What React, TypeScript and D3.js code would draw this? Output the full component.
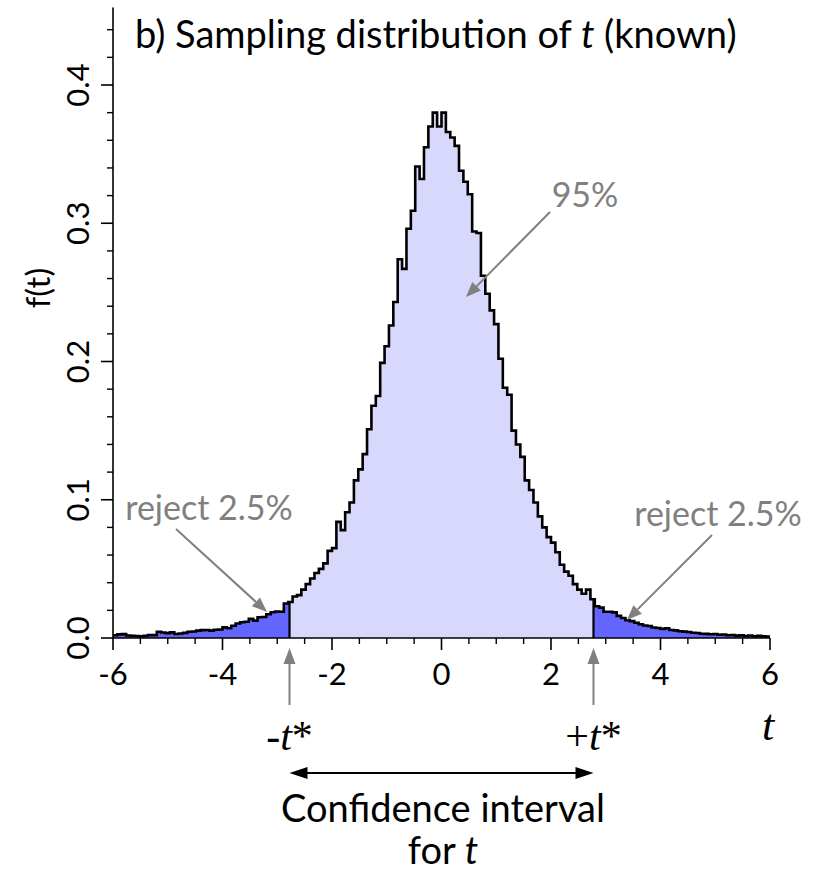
import React from "react";
import * as d3 from "d3";

// ---- data ----
const binStart = -6;
const binWidth = 0.08;
// t from -6.00 to -2.80
const leftTail = [
  0.0020, 0.0026, 0.0028, 0.0018, 0.0016, 0.0014, 0.0012, 0.0016, 0.0022, 0.0021,
  0.0045, 0.0040, 0.0035, 0.0041, 0.0029, 0.0033, 0.0037, 0.0045, 0.0047, 0.0053,
  0.0057, 0.0058, 0.0053, 0.0060, 0.0062, 0.0077, 0.0070, 0.0089, 0.0105, 0.0114,
  0.0118, 0.0138, 0.0126, 0.0150, 0.0152, 0.0172, 0.0186, 0.0192, 0.0190, 0.0250,
];
// t from -2.80 to 0.08
const leftCore = [
  0.026, 0.030, 0.031, 0.035, 0.039, 0.043, 0.047, 0.050, 0.054, 0.063,
  0.065, 0.084, 0.078, 0.091, 0.098, 0.114, 0.122, 0.133, 0.151, 0.168,
  0.175, 0.199, 0.211, 0.226, 0.243, 0.274, 0.267, 0.296, 0.309, 0.341,
  0.332, 0.355, 0.370, 0.380, 0.370, 0.380,
];
// t from 0.08 to 2.80
const rightCore = [
  0.366, 0.362, 0.356, 0.338, 0.330, 0.321, 0.294, 0.293, 0.262, 0.249,
  0.237, 0.227, 0.202, 0.181, 0.176, 0.150, 0.140, 0.131, 0.114, 0.107,
  0.098, 0.088, 0.080, 0.073, 0.069, 0.062, 0.053, 0.048, 0.045, 0.039,
  0.035, 0.032, 0.035, 0.028,
];
// t from 2.80 to 6.00
const rightTail = [
  0.0230, 0.0220, 0.0190, 0.0190, 0.0185, 0.0160, 0.0145, 0.0128, 0.0122, 0.0110,
  0.0100, 0.0090, 0.0087, 0.0076, 0.0072, 0.0066, 0.0071, 0.0058, 0.0055, 0.0049,
  0.0046, 0.0043, 0.0038, 0.0036, 0.0031, 0.0030, 0.0027, 0.0029, 0.0023, 0.0025,
  0.0020, 0.0022, 0.0017, 0.0019, 0.0014, 0.0018, 0.0013, 0.0016, 0.0012, 0.0011,
];
const tStar = 2.776;
const xMajor = [-6, -4, -2, 0, 2, 4, 6];
const yMajor = [0, 0.1, 0.2, 0.3, 0.4];
const xDomain = [-6, 6];
const yTop = 0.456;

const LIGHT = "#d8d8fd";
const DARK = "#6464ff";
const GRAY = "#808080";
const FONT = "Lato, 'Open Sans', sans-serif";
const SERIF = "'Liberation Serif', 'DejaVu Serif', serif";

export default function App() {
  const values = [...leftTail, ...leftCore, ...rightCore, ...rightTail];
  const pts: [number, number][] = values.map((v, i) => [binStart + i * binWidth, v]);
  pts.push([binStart + values.length * binWidth, values[values.length - 1]]);

  const x = d3.scaleLinear().domain(xDomain).range([113, 770]);
  const y = d3.scaleLinear().domain([0, 0.4]).range([638, 85]);

  const area = d3
    .area<[number, number]>()
    .x((d) => x(d[0]))
    .y0(y(0))
    .y1((d) => y(d[1]))
    .curve(d3.curveStepAfter);
  const line = d3
    .line<[number, number]>()
    .x((d) => x(d[0]))
    .y((d) => y(d[1]))
    .curve(d3.curveStepAfter);

  const valAt = (t: number) => {
    const i = Math.min(values.length - 1, Math.floor((t - binStart) / binWidth));
    return values[i];
  };

  const xMinor = d3.range(-6, 6.001, 0.5).filter((v) => !xMajor.includes(v));
  const yMinor = d3.range(0, yTop, 0.02).filter((v) => !yMajor.some((m) => Math.abs(m - v) < 1e-6));

  const arrow = (x1: number, y1: number, x2: number, y2: number, color: string, head = 15, hw = 6) => {
    const ang = Math.atan2(y2 - y1, x2 - x1);
    const bx = x2 - head * Math.cos(ang);
    const by = y2 - head * Math.sin(ang);
    const px = -Math.sin(ang) * hw;
    const py = Math.cos(ang) * hw;
    return (
      <g>
        <line x1={x1} y1={y1} x2={bx} y2={by} stroke={color} strokeWidth={2} />
        <path d={`M${x2},${y2} L${bx + px},${by + py} L${bx - px},${by - py} Z`} fill={color} />
      </g>
    );
  };

  const xl = x(-tStar);
  const xr = x(tStar);

  return (
    <svg width={820} height={875} style={{ position: "absolute", left: 0, top: 0, background: "#fff" }}>
      <defs>
        <clipPath id="midClip">
          <rect x={xl} y={0} width={xr - xl} height={700} />
        </clipPath>
        <clipPath id="tailClip">
          <rect x={0} y={0} width={xl} height={700} />
          <rect x={xr} y={0} width={820 - xr} height={700} />
        </clipPath>
      </defs>

      {/* fills */}
      <path d={area(pts) || ""} fill={LIGHT} clipPath="url(#midClip)" />
      <path d={area(pts) || ""} fill={DARK} clipPath="url(#tailClip)" />
      {/* t* boundary lines */}
      <line x1={xl} x2={xl} y1={y(0)} y2={y(valAt(-tStar))} stroke="#000" strokeWidth={2.2} />
      <line x1={xr} x2={xr} y1={y(0)} y2={y(valAt(tStar))} stroke="#000" strokeWidth={2.2} />
      {/* outline */}
      <path d={line(pts) || ""} fill="none" stroke="#000" strokeWidth={2.6} strokeLinejoin="miter" />

      {/* axes */}
      <line x1={x(-6)} x2={x(-6)} y1={y(yTop)} y2={y(0)} stroke="#000" strokeWidth={1.6} />
      <line x1={x(-6)} x2={x(6)} y1={y(0)} y2={y(0)} stroke="#000" strokeWidth={1.6} />
      {yMajor.map((v) => (
        <g key={"ym" + v}>
          <line x1={x(-6) - 12} x2={x(-6)} y1={y(v)} y2={y(v)} stroke="#000" strokeWidth={1.6} />
          <text
            transform={`translate(${x(-6) - 24},${y(v)}) rotate(-90)`}
            textAnchor="middle"
            fontFamily={FONT}
            fontSize={31}
          >
            {v.toFixed(1)}
          </text>
        </g>
      ))}
      {yMinor.map((v) => (
        <line key={"yn" + v} x1={x(-6) - 6} x2={x(-6)} y1={y(v)} y2={y(v)} stroke="#000" strokeWidth={1.4} />
      ))}
      {xMajor.map((v) => (
        <g key={"xm" + v}>
          <line x1={x(v)} x2={x(v)} y1={y(0)} y2={y(0) + 12} stroke="#000" strokeWidth={1.6} />
          <text x={x(v)} y={y(0) + 47} textAnchor="middle" fontFamily={FONT} fontSize={31}>
            {v < 0 ? `-${Math.abs(v)}` : `${v}`}
          </text>
        </g>
      ))}
      {xMinor.map((v) => (
        <line key={"xn" + v} x1={x(v)} x2={x(v)} y1={y(0)} y2={y(0) + 6} stroke="#000" strokeWidth={1.4} />
      ))}

      {/* axis titles */}
      <text transform="translate(50,288) rotate(-90)" textAnchor="middle" fontFamily={FONT} fontSize={33}>
        f(t)
      </text>
      <text x={768} y={740} textAnchor="middle" fontFamily={SERIF} fontStyle="italic" fontSize={44}>
        t
      </text>

      {/* title */}
      <text x={135} y={48} fontFamily={FONT} fontSize={38}>
        b) Sampling distribution of <tspan fontStyle="italic">t</tspan> (known)
      </text>

      {/* annotations */}
      <text x={585} y={207} textAnchor="middle" fontFamily={FONT} fontSize={34} fill={GRAY}>
        95%
      </text>
      {arrow(550, 212, 466, 297, GRAY)}
      <text x={209} y={520} textAnchor="middle" fontFamily={FONT} fontSize={34} fill={GRAY}>
        reject 2.5%
      </text>
      {arrow(176, 529, 267, 612, GRAY)}
      <text x={718} y={526} textAnchor="middle" fontFamily={FONT} fontSize={34} fill={GRAY}>
        reject 2.5%
      </text>
      {arrow(712, 535, 627, 620, GRAY)}

      {/* t* markers */}
      {arrow(xl, 705, xl, 648, GRAY, 16, 6)}
      {arrow(xr, 705, xr, 648, GRAY, 16, 6)}
      <text x={xl} y={750} textAnchor="middle" fontFamily={SERIF} fontSize={42}>
        -<tspan fontStyle="italic">t</tspan>*
      </text>
      <text x={xr} y={750} textAnchor="middle" fontFamily={SERIF} fontSize={42}>
        +<tspan fontStyle="italic">t</tspan>*
      </text>

      {/* confidence interval double arrow */}
      <line x1={xl + 14} x2={xr - 14} y1={773} y2={773} stroke="#000" strokeWidth={2} />
      <path d={`M${xl},773 L${xl + 18},767 L${xl + 18},779 Z`} fill="#000" />
      <path d={`M${xr},773 L${xr - 18},767 L${xr - 18},779 Z`} fill="#000" />
      <text x={443} y={822} textAnchor="middle" fontFamily={FONT} fontSize={38}>
        Confidence interval
      </text>
      <text x={443} y={864} textAnchor="middle" fontFamily={FONT} fontSize={38}>
        for <tspan fontStyle="italic">t</tspan>
      </text>
    </svg>
  );
}
